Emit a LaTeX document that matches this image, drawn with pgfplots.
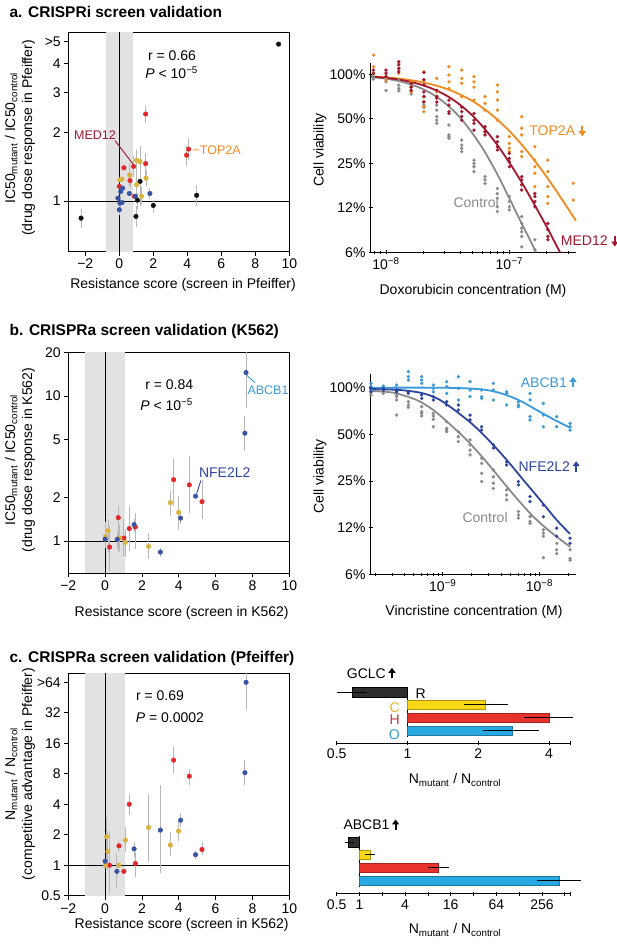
\documentclass[border=0pt]{standalone}
\usepackage{fontspec}
\setmainfont{Liberation Sans}
\usepackage{pgfplots}
\pgfplotsset{compat=1.18}
\usetikzlibrary{arrows.meta}

\definecolor{ptRed}{HTML}{E3262B}
\definecolor{ptGold}{HTML}{D9B13B}
\definecolor{ptBlue}{HTML}{3853A4}
\definecolor{ptBlack}{HTML}{111111}
\definecolor{errGray}{HTML}{B8B8B8}
\definecolor{bandGray}{HTML}{E2E2E2}
\definecolor{ctlGray}{HTML}{8A8A8A}
\definecolor{medRed}{HTML}{A3162E}
\definecolor{topOrange}{HTML}{F28A1E}
\definecolor{abcLight}{HTML}{3B9AD8}
\definecolor{nfeNavy}{HTML}{2E45A0}
\definecolor{barBlack}{HTML}{2E2E2E}
\definecolor{barYellow}{HTML}{F9D616}
\definecolor{barRed}{HTML}{E8322C}
\definecolor{barBlue}{HTML}{29A9E1}
\definecolor{labC}{HTML}{E0B324}
\definecolor{labH}{HTML}{C8373A}
\definecolor{labO}{HTML}{2E9BD6}

\newcommand{\fs}{\fontsize{14}{16.8}\selectfont}
\newcommand{\fg}{\fontsize{12.5}{15}\selectfont}
\newcommand{\ft}{\fontsize{15.5}{18}\selectfont\bfseries}

\pgfplotsset{
  every axis/.append style={font=\fs},
  myPanel/.style={scale only axis, anchor=south west, clip=false,
    tick align=outside, major tick length=4pt, minor tick length=2.5pt,
    tick style={black, line width=0.8pt},
    axis line style={line width=1pt, -},
    ticklabel style={font=\fs}},
  myPts/.style={only marks, mark=*, mark size=2.3pt, color=#1},
  myFpts/.style={only marks, mark=*, mark size=1.5pt, color=#1},
  myFit/.style={smooth, no marks, line width=1.8pt, color=#1},
  myEbar/.style={errGray, line width=0.9pt, unbounded coords=jump},
  myBarline/.style={black, line width=1pt},
}

\begin{document}
\begin{tikzpicture}[x=1pt,y=1pt,font=\fs]
\path[use as bounding box] (0,0) rectangle (617,946);

% ---------------- panel a ----------------
\node[anchor=west, font=\ft] at (6,934) {a. CRISPRi screen validation};

\begin{axis}[myPanel, xtick pos=bottom, ytick pos=left, at={(68.3pt,694.3pt)}, width=221pt, height=219.4pt,
  xmin=-3, xmax=10, ymode=log, ymin=0.6, ymax=5.5,
  xtick={-2,0,2,4,6,8,10}, xticklabels={−2,0,2,4,6,8,10},
  ytick={1,2,3,4,5}, yticklabels={1,2,3,4,>5}]
\addplot[fill=bandGray, draw=none] coordinates {(-0.78,0.6) (0.78,0.6) (0.78,5.5) (-0.78,5.5)} -- cycle;
\addplot[black, line width=1pt] coordinates {(0,0.6) (0,5.5)};
\addplot[black, line width=1pt] coordinates {(-3,1) (10,1)};
\addplot[myEbar] coordinates {
 (1.55,2.20) (1.55,2.60) (1.55,nan) (4.08,1.52) (4.08,1.89) (4.08,nan)
 (3.96,1.42) (3.96,1.74) (3.96,nan) (0.84,1.28) (0.84,1.57) (0.84,nan)
 (1.55,1.28) (1.55,1.62) (1.55,nan) (0.63,1.14) (0.63,1.33) (0.63,nan)
 (1.02,1.12) (1.02,1.68) (1.02,nan) (1.22,0.95) (1.22,1.74) (1.22,nan)
 (0.61,1.16) (0.61,1.47) (0.61,nan) (1.57,1.16) (1.57,1.37) (1.57,nan)
 (1.02,1.01) (1.02,1.28) (1.02,nan) (1.31,0.97) (1.31,1.15) (1.31,nan)
 (1.06,0.92) (1.06,1.08) (1.06,nan) (4.55,0.95) (4.55,1.18) (4.55,nan)
 (2.0,0.89) (2.0,1.01) (2.0,nan) (0.98,0.77) (0.98,0.95) (0.98,nan)
 (-2.25,0.76) (-2.25,0.92) (-2.25,nan) (1.8,1.02) (1.8,1.14) (1.8,nan)
 (0.0,0.87) (0.0,0.97) (0.0,nan) (0.04,0.93) (0.04,1.06)};
\addplot[myPts=ptBlack] coordinates {(9.37,4.88) (1.22,1.22) (1.06,1.01) (4.55,1.06) (2.0,0.957) (0.98,0.857) (-2.25,0.842)};
\addplot[myPts=ptRed] coordinates {(1.55,2.41) (4.08,1.69) (3.96,1.59) (0.84,1.42) (0.27,1.40) (1.55,1.46) (0.63,1.23) (0.0,1.16) (0.88,1.05)};
\addplot[myPts=ptGold] coordinates {(1.02,1.51) (1.22,1.49) (0.61,1.30) (0.04,1.24) (0.16,1.25) (1.57,1.26) (1.02,1.18) (1.31,1.05)};
\addplot[myPts=ptBlue] coordinates {(0.2,1.14) (0.08,1.10) (0.59,1.08) (1.8,1.08) (-0.08,1.03) (0.04,0.98) (0.16,0.986) (0.0,0.916) (0.94,1.05)};
\node at (axis cs:3.1,4.34) {r = 0.66};
\node at (axis cs:3.08,3.66) {\textit{P} < 10\textsuperscript{−5}};
\node[medRed, font=\fg] at (axis cs:-1.43,1.95) {MED12};
\draw[medRed, line width=0.9pt] (axis cs:-0.25,1.84) -- (axis cs:0.79,1.46);
\node[topOrange, font=\fg, anchor=west, inner sep=0pt] at (axis cs:4.3,1.68) {−TOP2A};
\end{axis}
\node[rotate=90, align=center] at (20,808) {IC50\textsubscript{mutant} / IC50\textsubscript{control}\\(drug dose response in Pfeiffer)};
\node at (183,661) {Resistance score (screen in Pfeiffer)};

\begin{axis}[myPanel, at={(371pt,693.7pt)}, width=205pt, height=189.6pt,
  axis x line=bottom, axis y line=left, axis line style={-},
  xmode=log, ymode=log, log basis y=2,
  xmin=7.56e-9, xmax=3.47e-7, ymin=6.25, ymax=120,
  ytick={6.25,12.5,25,50,100}, yticklabels={6\%,12\%,25\%,50\%,100\%},
  xtick={1e-8,1e-7}, xticklabels={10\textsuperscript{−8},10\textsuperscript{−7}},
  minor xtick={8e-9,9e-9,2e-8,3e-8,4e-8,5e-8,6e-8,7e-8,8e-8,9e-8,2e-7,3e-7}]
\addplot[myFpts=ctlGray] coordinates {
 (7.89e-9,99) (7.89e-9,96) (7.89e-9,93) (1e-8,94) (1e-8,89) (1e-8,77.6)
 (1.27e-8,91.5) (1.27e-8,84.7) (1.27e-8,80.4) (1.27e-8,77.5)
 (1.6e-8,82) (1.6e-8,76.3) (1.6e-8,73.6)
 (2.03e-8,70.6) (2.03e-8,65.3) (2.03e-8,62) (2.03e-8,59.8)
 (2.58e-8,62) (2.58e-8,57.3) (2.58e-8,51.7) (2.58e-8,49) (2.58e-8,46.6)
 (3.24e-8,45.4) (3.24e-8,38.9) (3.24e-8,37.9) (3.24e-8,36.9)
 (4.11e-8,35.9) (4.11e-8,33.2) (4.11e-8,31.6) (4.11e-8,30)
 (5.17e-8,26.3) (5.17e-8,25) (5.17e-8,23.7) (5.17e-8,22)
 (6.35e-8,20.3) (6.35e-8,19.3) (6.35e-8,18.3)
 (8e-8,16.9) (8e-8,15.6) (8e-8,14.5) (8e-8,12.7) (8e-8,11.8)
 (1e-7,14.9) (1e-7,13.8) (1e-7,12.7) (1e-7,12.1)
 (1.26e-7,10.9) (1.26e-7,9.8) (1.26e-7,9.1) (1.26e-7,8.6) (1.26e-7,8.0) (1.26e-7,6.8)
 (1.61e-7,7.6) (1.61e-7,6.5)};
\addplot[myFpts=topOrange] coordinates {
 (7.95e-9,135) (7.95e-9,112.7) (7.95e-9,101.6) (1e-8,101.6) (1e-8,96.5) (1e-8,91.5)
 (1.27e-8,118.7) (1.27e-8,107) (1.27e-8,101.6) (1.6e-8,89) (1.6e-8,82) (1.6e-8,76.3)
 (2.03e-8,104) (2.03e-8,91.5) (2.03e-8,70.6) (2.03e-8,60.4) (2.03e-8,55.9)
 (2.58e-8,94) (2.58e-8,76.3) (2.58e-8,70.6)
 (3.24e-8,112.7) (3.24e-8,99) (3.24e-8,89) (3.24e-8,80.4)
 (4.11e-8,107) (4.11e-8,94) (4.11e-8,87) (4.11e-8,70.6)
 (5.17e-8,96.5) (5.17e-8,89) (5.17e-8,82) (5.17e-8,67)
 (6.35e-8,70.6) (6.35e-8,63.6) (6.35e-8,57.3)
 (8e-8,84.7) (8e-8,76.3) (8e-8,67) (8e-8,57.3) (8e-8,49)
 (1e-7,37.9) (1e-7,34.1) (1e-7,31.6) (1e-7,30.0)
 (1.26e-7,51.7) (1.26e-7,43.2) (1.26e-7,38.9) (1.26e-7,30.0) (1.26e-7,27.8)
 (1.61e-7,32.4) (1.61e-7,26.3) (1.61e-7,23.7) (1.61e-7,21.4) (1.61e-7,17.4)
 (2.05e-7,26.3) (2.05e-7,22.0) (2.05e-7,17.4) (2.05e-7,14.9) (2.05e-7,13.4)
 (3.3e-7,18.3) (3.3e-7,14.1)};
\addplot[myFpts=medRed] coordinates {
 (7.89e-9,107) (7.89e-9,102) (1e-8,107) (1e-8,102) (1e-8,97)
 (1.27e-8,122) (1.27e-8,116) (1.27e-8,110) (1.27e-8,104)
 (1.6e-8,87) (1.6e-8,82) (1.6e-8,78)
 (2.03e-8,103) (2.03e-8,92) (2.03e-8,85) (2.03e-8,76) (2.03e-8,71) (2.03e-8,65)
 (2.58e-8,78) (2.58e-8,71) (2.58e-8,69) (2.58e-8,65)
 (3.24e-8,67) (3.24e-8,62) (3.24e-8,56) (3.24e-8,54.5)
 (4.11e-8,60) (4.11e-8,56) (4.11e-8,52) (4.11e-8,49)
 (5.17e-8,54.5) (5.17e-8,49) (5.17e-8,46.6) (5.17e-8,42)
 (6.35e-8,44.2) (6.35e-8,40.9) (6.35e-8,38.9)
 (8e-8,37.9) (8e-8,35) (8e-8,32.4) (8e-8,30.8)
 (1e-7,29.2) (1e-7,27) (1e-7,25.6) (1e-7,23.7)
 (1.26e-7,20.3) (1.26e-7,19.3) (1.26e-7,17.9) (1.26e-7,16.5)
 (1.61e-7,15.6) (1.61e-7,14.9) (1.61e-7,13.8) (1.61e-7,12.7)
 (2.05e-7,9.8) (2.05e-7,8.9) (2.05e-7,8.0) (2.05e-7,7.6)};
\addplot[myFit=ctlGray] coordinates {(7.586e-9,96.1) (1e-8,93.5) (1.259e-8,90.3) (1.585e-8,85.7) (1.995e-8,79.5) (2.512e-8,71.5) (3.162e-8,61.8) (3.981e-8,51.1) (5.012e-8,40.0) (6.31e-8,30.0) (7.943e-8,21.3) (1e-7,14.5) (1.259e-7,9.8) (1.585e-7,6.7) (1.644e-7,6.25)};
\addplot[myFit=topOrange] coordinates {(7.586e-9,96.9) (1e-8,95.4) (1.259e-8,93.7) (1.585e-8,91.4) (1.995e-8,88.3) (2.512e-8,84.3) (3.162e-8,79.3) (3.981e-8,73.2) (5.012e-8,66.1) (6.31e-8,58.1) (7.943e-8,49.7) (1e-7,41.4) (1.259e-7,33.5) (1.585e-7,26.4) (1.995e-7,20.4) (2.512e-7,15.4) (3.162e-7,11.5) (3.467e-7,10.2)};
\addplot[myFit=medRed] coordinates {(7.586e-9,96.6) (1e-8,94.7) (1.259e-8,92.3) (1.585e-8,89.0) (1.995e-8,84.4) (2.512e-8,78.5) (3.162e-8,71.1) (3.981e-8,62.3) (5.012e-8,52.7) (6.31e-8,42.8) (7.943e-8,33.5) (1e-7,25.3) (1.259e-7,18.6) (1.585e-7,13.3) (1.995e-7,9.4) (2.512e-7,6.5) (2.576e-7,6.25)};
\node[topOrange, anchor=west, inner sep=0pt] (topl) at (axis cs:1.45e-7,41.6) {TOP2A};
\node[medRed, anchor=west, inner sep=0pt] (medl) at (axis cs:2.61e-7,7.45) {MED12};
\node[ctlGray, anchor=west, inner sep=0pt] at (axis cs:3.52e-8,13.6) {Control};
\end{axis}
\draw[topOrange, line width=1.8pt, -{Triangle[length=5pt,width=7pt]}] ([xshift=7pt,yshift=5pt]topl.east) -- ++(0,-10.5pt);
\draw[medRed, line width=1.8pt, -{Triangle[length=5pt,width=7pt]}] ([xshift=7pt,yshift=5pt]medl.east) -- ++(0,-10.5pt);
\node[rotate=90] at (320,796) {Cell viability};
\node at (473,655.3) {Doxorubicin concentration (M)};

% ---------------- panel b ----------------
\node[anchor=west, font=\ft] at (6,614.3) {b. CRISPRa screen validation (K562)};

\begin{axis}[myPanel, xtick pos=bottom, ytick pos=left, at={(68.3pt,372.7pt)}, width=221pt, height=221pt,
  xmin=-2, xmax=10, ymode=log, ymin=0.6, ymax=20,
  xtick={-2,0,2,4,6,8,10}, xticklabels={−2,0,2,4,6,8,10},
  ytick={1,2,5,10,20}, yticklabels={1,2,5,10,20}]
\addplot[fill=bandGray, draw=none] coordinates {(-1.1,0.6) (1.1,0.6) (1.1,20) (-1.1,20)} -- cycle;
\addplot[black, line width=1pt] coordinates {(0,0.6) (0,20)};
\addplot[black, line width=1pt] coordinates {(-2,1) (10,1)};
\addplot[myEbar] coordinates {
 (7.65,8.2) (7.65,20) (7.65,nan) (7.59,4.2) (7.59,7.3) (7.59,nan)
 (3.72,1.74) (3.72,3.67) (3.72,nan) (4.57,1.56) (4.57,3.83) (4.57,nan)
 (5.26,1.41) (5.26,2.65) (5.26,nan) (3.54,1.48) (3.54,2.2) (3.54,nan)
 (3.99,1.2) (3.99,2.04) (3.99,nan) (4.10,1.32) (4.10,1.58) (4.10,nan)
 (0.715,0.83) (0.715,1.74) (0.715,nan) (1.57,1.15) (1.57,1.42) (1.57,nan)
 (1.64,0.877) (1.64,1.56) (1.64,nan) (1.31,0.85) (1.31,1.74) (1.31,nan)
 (0.16,0.83) (0.16,1.41) (0.16,nan) (0.24,0.62) (0.24,1.27) (0.24,nan)
 (2.36,0.75) (2.36,1.14) (2.36,nan) (1.02,0.79) (1.02,1.41) (1.02,nan)
 (0.8,0.85) (0.8,1.3) (0.8,nan) (0.02,0.9) (0.02,1.35) (0.02,nan)
 (1.1,0.78) (1.1,1.2) (1.1,nan) (3.0,0.78) (3.0,0.9) (3.0,nan)
 (0.66,0.9) (0.66,1.15)};
\addplot[myPts=ptRed] coordinates {(3.72,2.65) (4.57,2.44) (5.26,1.87) (0.715,1.45) (1.64,1.25) (1.31,1.22) (1.02,1.05) (0.24,0.91)};
\addplot[myPts=ptGold] coordinates {(3.54,1.84) (3.99,1.58) (0.16,1.18) (0.02,1.08) (0.8,1.05) (1.1,0.98) (2.36,0.92)};
\addplot[myPts=ptBlue] coordinates {(7.65,14.5) (7.59,5.54) (4.91,2.04) (4.10,1.44) (1.57,1.30) (0,1.03) (0.66,1.03) (3.0,0.84)};
\node at (axis cs:3.48,11.9) {r = 0.84};
\node at (axis cs:3.34,8.67) {\textit{P} < 10\textsuperscript{−5}};
\node[abcLight, font=\fg, anchor=west, inner sep=0pt] at (axis cs:7.72,10.9) {ABCB1};
\draw[abcLight, line width=0.9pt] (axis cs:7.68,13.9) -- (axis cs:8.14,12.34);
\node[nfeNavy, anchor=west, inner sep=0pt] at (axis cs:5.09,2.95) {NFE2L2};
\draw[nfeNavy, line width=0.9pt] (axis cs:5.2,2.62) -- (axis cs:4.97,2.125);
\end{axis}
\node[rotate=90, align=center] at (20,486) {IC50\textsubscript{mutant} / IC50\textsubscript{control}\\(drug dose response in K562)};
\node at (181.7,332.7) {Resistance score (screen in K562)};

\begin{axis}[myPanel, at={(371pt,371.7pt)}, width=205pt, height=200pt,
  axis x line=bottom, axis y line=left, axis line style={-},
  xmode=log, ymode=log, log basis y=2,
  xmin=1.815e-10, xmax=2.39e-8, ymin=6.25, ymax=122,
  ytick={6.25,12.5,25,50,100}, yticklabels={6\%,12\%,25\%,50\%,100\%},
  xtick={1e-9,1e-8}, xticklabels={10\textsuperscript{−9},10\textsuperscript{−8}},
  minor xtick={2e-10,3e-10,4e-10,5e-10,6e-10,7e-10,8e-10,9e-10,2e-9,3e-9,4e-9,5e-9,6e-9,7e-9,8e-9,9e-9,2e-8}]
\addplot[myFpts=ctlGray] coordinates {
 (1.815e-10,94) (1.815e-10,89.7) (2.432e-10,96.6) (2.432e-10,91.9)
 (3.342e-10,89.7) (3.342e-10,87.5) (3.342e-10,83.3) (3.342e-10,66.6)
 (4.413e-10,81.2) (4.413e-10,77.3) (4.413e-10,74.7)
 (6.067e-10,75.4) (6.067e-10,70.0) (6.067e-10,68.3) (6.067e-10,65.7)
 (8e-10,68.3) (8e-10,65.7) (8e-10,62.5) (8e-10,56.0)
 (1.1e-9,60.3) (1.1e-9,54.6) (1.1e-9,53.3) (1.1e-9,52.0)
 (1.452e-9,52) (1.452e-9,48.3) (1.452e-9,44.9)
 (1.918e-9,46) (1.918e-9,42.7) (1.918e-9,39.6) (1.918e-9,36.8)
 (2.53e-9,35.0) (2.53e-9,32.4) (2.53e-9,28.0) (2.53e-9,24.8)
 (3.34e-9,29.4) (3.34e-9,26.6) (3.34e-9,24.2) (3.34e-9,22.4)
 (4.59e-9,21.9) (4.59e-9,20.3) (4.59e-9,18.9)
 (6.07e-9,15.9) (6.07e-9,15.1) (6.07e-9,14.4)
 (8e-9,14.7) (8e-9,13.7) (8e-9,13.3)
 (1.1e-8,12.1) (1.1e-8,11.5) (1.1e-8,11.0) (1.1e-8,8.0)
 (1.51e-8,9.9) (1.51e-8,9.0) (1.51e-8,8.5)
 (2.075e-8,9.0) (2.075e-8,7.9) (2.075e-8,7.7)};
\addplot[myFpts=abcLight] coordinates {
 (1.815e-10,106.6) (1.815e-10,101.5) (1.815e-10,96.6) (2.432e-10,102.5) (2.432e-10,97.5)
 (3.342e-10,104) (3.342e-10,99) (3.342e-10,94)
 (4.413e-10,126.8) (4.413e-10,117.7) (4.413e-10,112.0)
 (6.067e-10,117.7) (6.067e-10,112.0) (6.067e-10,106.6)
 (8e-10,104) (8e-10,99) (8e-10,94)
 (1.1e-9,109.3) (1.1e-9,101.5) (1.1e-9,91.9)
 (1.452e-9,117.7) (1.452e-9,99) (1.452e-9,83.3)
 (1.918e-9,109.3) (1.918e-9,96.6) (1.918e-9,87.5)
 (2.53e-9,96.6) (2.53e-9,87.5) (2.53e-9,85.3)
 (3.34e-9,106.6) (3.34e-9,96.6) (3.34e-9,83.3)
 (4.59e-9,94) (4.59e-9,91.9) (4.59e-9,77.3)
 (6.07e-9,81.2) (6.07e-9,77.3) (6.07e-9,75.4)
 (8e-9,91.9) (8e-9,83.3) (8e-9,65.0) (8e-9,61.9)
 (1.1e-8,79.2) (1.1e-8,66.6) (1.1e-8,56.0)
 (1.51e-8,65.0) (1.51e-8,56.0)
 (2.075e-8,58.9) (2.075e-8,56.0) (2.075e-8,53.3)};
\addplot[myFpts=nfeNavy] coordinates {
 (1.815e-10,99) (1.815e-10,94) (2.432e-10,99) (2.432e-10,96.6)
 (3.342e-10,96.6) (3.342e-10,94) (4.413e-10,94) (4.413e-10,91.9)
 (6.067e-10,89.7) (6.067e-10,85.3) (8e-10,87.5) (8e-10,83.3)
 (1.1e-9,81.2) (1.1e-9,77.3) (1.452e-9,77.3) (1.452e-9,71.8)
 (1.918e-9,66.6) (1.918e-9,61.9) (2.53e-9,56.0) (2.53e-9,53.3)
 (3.34e-9,42.7) (3.34e-9,40.8) (4.59e-9,33.3) (4.59e-9,31.7)
 (6.07e-9,24.8) (6.07e-9,23.6) (8e-9,19.8) (8e-9,18.4)
 (1.1e-8,17.5) (1.1e-8,14.7) (1.51e-8,12.4) (1.51e-8,11.0)
 (2.075e-8,10.7) (2.075e-8,9.9)};
\addplot[myFit=ctlGray] coordinates {(1.815e-10,95.2) (3.09e-10,92.8) (5.38e-10,83.3) (8.0e-10,71.8) (1.191e-9,58.0) (1.77e-9,46.0) (2.636e-9,35.0) (3.917e-9,26.0) (5.83e-9,19.3) (8.67e-9,14.7) (1.288e-8,11.8) (2.075e-8,9.4)};
\addplot[myFit=abcLight] coordinates {(1.815e-10,100) (8.0e-10,100) (1.77e-9,99) (2.85e-9,96.6) (4.25e-9,91.0) (6.31e-9,82.4) (9.38e-9,71.8) (1.396e-8,62.5) (2.075e-8,55.2)};
\addplot[myFit=nfeNavy] coordinates {(1.815e-10,98.0) (3.62e-10,96.6) (6.31e-10,91.9) (9.38e-10,83.3) (1.396e-9,70.0) (2.075e-9,57.4) (3.09e-9,44.9) (4.59e-9,34.2) (6.82e-9,25.4) (1.016e-8,18.9) (1.51e-8,14.0) (2.075e-8,11.4)};
\node[abcLight, anchor=west, inner sep=0pt] (abl) at (axis cs:6.41e-9,108.2) {ABCB1};
\node[nfeNavy, anchor=west, inner sep=0pt] (nfl) at (axis cs:6.07e-9,30.9) {NFE2L2};
\node[ctlGray, anchor=west, inner sep=0pt] at (axis cs:1.596e-9,14.5) {Control};
\end{axis}
\draw[abcLight, line width=1.8pt, -{Triangle[length=5pt,width=7pt]}] ([xshift=6pt,yshift=-5pt]abl.east) -- ++(0,10.5pt);
\draw[nfeNavy, line width=1.8pt, -{Triangle[length=5pt,width=7pt]}] ([xshift=6pt,yshift=-5pt]nfl.east) -- ++(0,10.5pt);
\node[rotate=90] at (320,469.3) {Cell viability};
\node at (474,334.3) {Vincristine concentration (M)};

% ---------------- panel c ----------------
\node[anchor=west, font=\ft] at (6,287.7) {c. CRISPRa screen validation (Pfeiffer)};

\begin{axis}[myPanel, xtick pos=bottom, ytick pos=left, at={(68.3pt,50.3pt)}, width=221pt, height=222.4pt,
  xmin=-2, xmax=10, ymode=log, log basis y=2, ymin=0.5, ymax=78.5,
  xtick={-2,0,2,4,6,8,10}, xticklabels={−2,0,2,4,6,8,10},
  ytick={0.5,1,2,4,8,16,32,64}, yticklabels={0.5,1,2,4,8,16,32,>64}]
\addplot[fill=bandGray, draw=none] coordinates {(-1.1,0.5) (1.1,0.5) (1.1,78.5) (-1.1,78.5)} -- cycle;
\addplot[black, line width=1pt] coordinates {(0,0.5) (0,78.5)};
\addplot[black, line width=1pt] coordinates {(-2,1) (10,1)};
\addplot[myEbar] coordinates {
 (7.65,33.9) (7.65,78.5) (7.65,nan) (7.59,6.2) (7.59,10.9) (7.59,nan)
 (3.72,8.05) (3.72,14.8) (3.72,nan) (4.57,6.2) (4.57,9.0) (4.57,nan)
 (1.31,3.12) (1.31,5.1) (1.31,nan) (2.36,1.08) (2.36,5.1) (2.36,nan)
 (3.0,0.83) (3.0,6.2) (3.0,nan) (3.99,1.75) (3.99,2.8) (3.99,nan)
 (3.54,1.22) (3.54,2.15) (3.54,nan) (4.91,1.15) (4.91,1.38) (4.91,nan)
 (5.26,1.25) (5.26,1.7) (5.26,nan) (0.08,1.04) (0.08,3.0) (0.08,nan)
 (1.1,1.35) (1.1,2.4) (1.1,nan) (0.75,1.35) (0.75,1.75) (0.75,nan)
 (1.57,1.2) (1.57,1.7) (1.57,nan) (0.15,0.9) (0.15,2.2) (0.15,nan)
 (0.24,0.525) (0.24,2.13) (0.24,nan) (1.64,0.76) (1.64,1.35) (1.64,nan)
 (0.64,0.59) (0.64,1.3) (0.64,nan) (4.10,2.4) (4.10,3.3)};
\addplot[myPts=ptRed] coordinates {(3.72,10.9) (4.57,7.57) (1.31,4.0) (5.26,1.43) (0.75,1.55) (0.24,1.0) (1.64,1.04) (1.02,0.87)};
\addplot[myPts=ptGold] coordinates {(2.36,2.36) (3.99,2.17) (3.54,1.58) (0.08,1.91) (1.1,1.77) (0.15,1.37) (0.01,1.0) (0.75,1.0)};
\addplot[myPts=ptBlue] coordinates {(7.65,64) (7.59,8.2) (4.10,2.78) (3.0,2.22) (4.91,1.27) (1.57,1.45) (0,1.095) (0.64,0.87)};
\node at (axis cs:2.98,47.1) {r = 0.69};
\node at (axis cs:3.52,28.8) {\textit{P} = 0.0002};
\end{axis}
\node[rotate=90, align=center] at (20,172) {N\textsubscript{mutant} / N\textsubscript{control}\\(competitive advantage in Pfeiffer)};
\node at (181.7,21) {Resistance score (screen in K562)};

% GCLC bars
\begin{axis}[myPanel, tick align=inside, at={(336.7pt,202.7pt)}, width=234pt, height=57.3pt,
  axis x line=bottom, axis y line=none, axis line style={-},
  xmode=log, log basis x=2, xmin=0.5, xmax=4.95, ymin=0, ymax=57.3, ytick=\empty,
  xtick={0.5,1,2,4,4.95}, xticklabels={0.5,1,2,4,{}}]
\addplot[black, line width=0.6pt] coordinates {(1,6.6) (1,56.6)};
\addplot[xbar, bar shift=0pt, bar width=9.3pt, fill=barBlack, draw=black] coordinates {(0.58,51.1)};
\addplot[xbar, bar shift=0pt, bar width=9.3pt, fill=barYellow, draw=barYellow!70!black] coordinates {(2.15,38.3)};
\addplot[xbar, bar shift=0pt, bar width=9.3pt, fill=barRed, draw=barRed!70!black] coordinates {(4.0,25.6)};
\addplot[xbar, bar shift=0pt, bar width=9.3pt, fill=barBlue, draw=barBlue!70!black] coordinates {(2.78,12.6)};
\addplot[myBarline] coordinates {(0.50,51.1) (0.665,51.1)};
\addplot[myBarline] coordinates {(1.74,38.3) (2.67,38.3)};
\addplot[myBarline] coordinates {(3.13,25.6) (5.08,25.6)};
\addplot[myBarline] coordinates {(2.09,12.6) (3.64,12.6)};
\node[anchor=west, inner sep=0pt] at (axis cs:1.08,50) {R};
\node[labC, anchor=east, inner sep=0pt] at (axis cs:0.93,35.8) {C};
\node[labH, anchor=east, inner sep=0pt] at (axis cs:0.93,23.3) {H};
\node[labO, anchor=east, inner sep=0pt] at (axis cs:0.93,9) {O};
\end{axis}
\node[anchor=west, inner sep=0pt] (gcl) at (346.7,272.7) {GCLC};
\draw[black, line width=1.8pt, -{Triangle[length=5pt,width=7pt]}] ([xshift=6pt,yshift=-5pt]gcl.east) -- ++(0,10.5pt);
\node at (455,166) {N\textsubscript{mutant} / N\textsubscript{control}};

% ABCB1 bars
\begin{axis}[myPanel, tick align=inside, at={(336.7pt,52pt)}, width=233.3pt, height=58pt,
  axis x line=bottom, axis y line=none, axis line style={-},
  xmode=log, log basis x=2, xmin=0.5, xmax=600, ymin=0, ymax=58, ytick=\empty,
  xtick={0.5,1,2,4,8,16,32,64,128,256,512,600},
  xticklabels={0.5,1,{},4,{},16,{},64,{},256,{},{}}]
\addplot[black, line width=0.6pt] coordinates {(1,7.3) (1,58)};
\addplot[xbar, bar shift=0pt, bar width=9.3pt, fill=barBlack, draw=black] coordinates {(0.716,51.7)};
\addplot[xbar, bar shift=0pt, bar width=9.3pt, fill=barYellow, draw=barYellow!70!black] coordinates {(1.38,39)};
\addplot[xbar, bar shift=0pt, bar width=9.3pt, fill=barRed, draw=barRed!70!black] coordinates {(11.0,26.3)};
\addplot[xbar, bar shift=0pt, bar width=9.3pt, fill=barBlue, draw=barBlue!70!black] coordinates {(433,13.3)};
\addplot[myBarline] coordinates {(0.647,51.7) (0.85,51.7)};
\addplot[myBarline] coordinates {(1.19,39) (1.61,39)};
\addplot[myBarline] coordinates {(8.1,26.3) (15.4,26.3)};
\addplot[myBarline] coordinates {(218,13.3) (836,13.3)};
\end{axis}
\node[anchor=west, inner sep=0pt] (abb) at (343.3,121) {ABCB1};
\draw[black, line width=1.8pt, -{Triangle[length=5pt,width=7pt]}] ([xshift=6pt,yshift=-5pt]abb.east) -- ++(0,10.5pt);
\node at (455,16) {N\textsubscript{mutant} / N\textsubscript{control}};
\end{tikzpicture}
\end{document}
